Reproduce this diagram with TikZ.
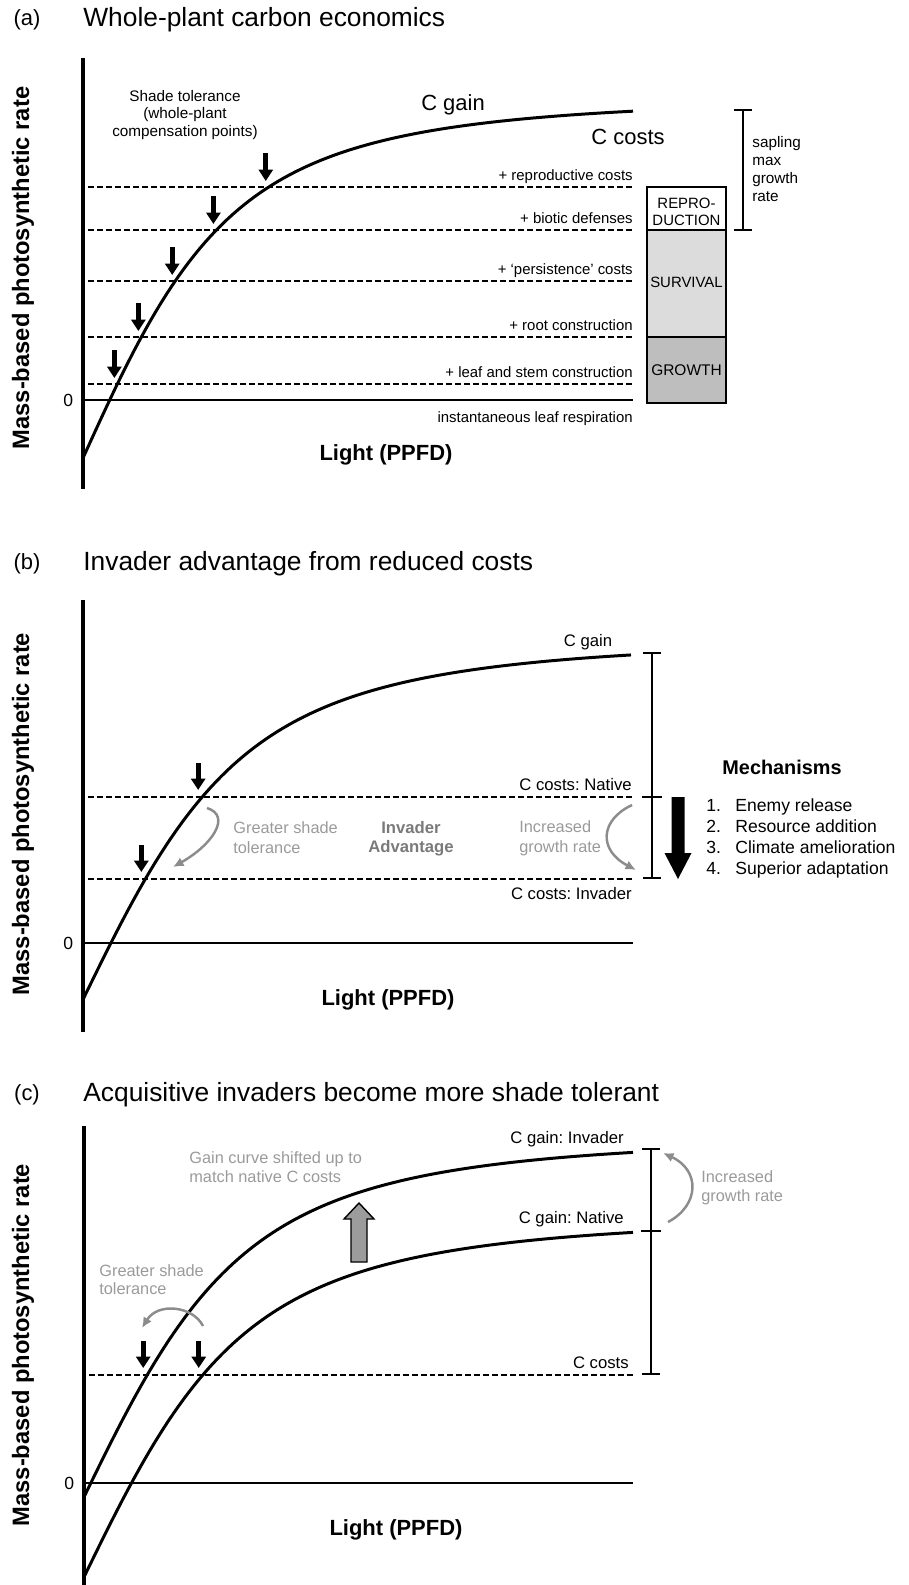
\documentclass[tikz,border=0pt]{standalone}
\usepackage{fontspec}
\setmainfont{Liberation Sans}
\usepackage{tikz}
\usetikzlibrary{positioning}
\usetikzlibrary{arrows.meta}

\definecolor{annogray}{HTML}{8C8C8C}
\definecolor{notegray}{HTML}{9A9A9A}
\definecolor{advgray}{HTML}{7A7A7A}
\definecolor{survgray}{HTML}{DCDCDC}
\definecolor{growgray}{HTML}{BEBEBE}
\definecolor{liftgray}{HTML}{9C9C9C}

\tikzset{
    axisline/.style={line width=2.3pt},
    zeroline/.style={line width=1.1pt},
    costline/.style={line width=1.1pt, dash pattern=on 3.4pt off 1.7pt},
    gaincurve/.style={line width=1.7pt},
    comparrow/.style={line width=2.7pt, -{Triangle[width=8pt,length=6.5pt]}},
    shiftarrow/.style={annogray, line width=1.4pt, -{Latex[width=5.5pt,length=6pt]}},
    rangebar/.style={line width=1.1pt},
    boxline/.style={line width=1.4pt},
    paneltitle/.style={font=\fontsize{15}{18}\selectfont, anchor=west, inner sep=0pt},
    panelletter/.style={font=\fontsize{12.5}{15}\selectfont, inner sep=0pt},
    ylab/.style={font=\fontsize{13.5}{16}\selectfont\bfseries, rotate=90, inner sep=0pt},
    xlab/.style={font=\fontsize{12.5}{15}\selectfont\bfseries, inner sep=0pt},
    zerolab/.style={font=\fontsize{10}{12}\selectfont, inner sep=0pt},
    costlab/.style={font=\fontsize{8.5}{10}\selectfont, anchor=base east, inner sep=0pt},
    smalllab/.style={font=\fontsize{8.7}{10.2}\selectfont, inner sep=0pt},
    curvelab/.style={font=\fontsize{9.5}{11}\selectfont, anchor=base east, inner sep=0pt},
    notelab/.style={font=\fontsize{9.3}{11.2}\selectfont, text=notegray, align=left,
        anchor=west, inner sep=0pt}
}

\begin{document}
\frenchspacing
\begin{tikzpicture}[x=0.02cm, y=-0.02cm,
    declare function={gain(\xx,\ss)=\ss*\xx/sqrt(1+(\ss*\xx/362)^2);
                      lux(\dd,\ss)=\dd/(\ss*sqrt(1-(\dd/362)^2));}]
        \useasboundingbox (0,0) rectangle (909,1585);

        % (a) whole-plant carbon economics
        \node[panelletter] (la) at (27,20) {(a)};
        \node[paneltitle] (ta) at (83,20) {Whole-plant carbon economics};

        \draw[axisline] (83,58) -- (83,489);
        \coordinate (za) at (83,400);
        \draw[zeroline] (za) -- (633,400);
        \node[zerolab, left=5.4pt of za] (z0a) {0};

        \foreach \yc/\costtext in {187/+ reproductive costs, 230/+ biotic defenses,
            281/+ ‘persistence’ costs, 337/+ root construction,
            384/+ leaf and stem construction}
        {
            \draw[costline] (88,\yc) -- (633,\yc);
            \node[costlab] (cost\yc) at (633,\yc-7) {\costtext};
        }

        \draw[gaincurve] plot[domain=0:550, samples=100]
        ({83+\x},{458-gain(\x,2.2)});

        \foreach \dd in {74, 121, 177, 228, 271}
        {
            \pgfmathsetmacro{\cx}{83+lux(\dd,2.2)-3}
            \coordinate (ca\dd) at (\cx,458-\dd-6);
            \draw[comparrow] (ca\dd) ++(0,-28) -- (ca\dd);
        }

        \node[font=\fontsize{12.5}{15}\selectfont] (cga) at (453,105) {C gain};
        \node[font=\fontsize{12.5}{15}\selectfont] (cca) at (628,137) {C costs};
        \node[smalllab, align=center] (shade) at (185,115)
        {Shade tolerance\\(whole-plant\\compensation points)};
        \node[costlab] (resp) at (633,422) {instantaneous leaf respiration};
        \node[xlab] (xa) at (386,455) {Light (PPFD)};
        \node[ylab] (ya) at (23,268) {Mass-based photosynthetic rate};

        \draw[boxline] (647,187) rectangle (726,230);
        \draw[boxline, fill=survgray] (647,230) rectangle (726,337);
        \draw[boxline, fill=growgray] (647,337) rectangle (726,403);
        \node[costlab, anchor=center, align=center,
        font=\fontsize{8.5}{9.7}\selectfont] (repro) at (686.5,212) {REPRO-\\DUCTION};
        \node[costlab, anchor=center] (surv) at (686.5,282) {SURVIVAL};
        \node[costlab, anchor=center, font=\fontsize{8.8}{10}\selectfont]
        (grow) at (686.5,370) {GROWTH};

        \draw[rangebar, {Bar[width=10pt]}-{Bar[width=10pt]}] (743,109) -- (743,231);
        \node[smalllab, align=left, anchor=north west] (sap) at (752,136)
        {sapling\\max\\growth\\rate};

        % (b) reduced costs
        \node[panelletter] (lb) at (27,564) {(b)};
        \node[paneltitle] (tb) at (83,564) {Invader advantage from reduced costs};

        \draw[axisline] (83,600) -- (83,1032);
        \coordinate (zb) at (83,943);
        \draw[zeroline] (zb) -- (633,943);
        \node[zerolab, left=5.4pt of zb] (z0b) {0};

        \draw[costline] (88,797) -- (633,797);
        \draw[costline] (88,879) -- (633,879);

        \draw[gaincurve] plot[domain=0:548, samples=100]
        ({83+\x},{999.5-gain(\x,2.05)});

        \foreach \yb in {797, 879}
        {
            \pgfmathsetmacro{\cx}{83+lux(999.5-\yb,2.05)-4}
            \coordinate (cb\yb) at (\cx,\yb-7);
            \draw[comparrow] (cb\yb) ++(0,-27) -- (cb\yb);
        }

        \node[curvelab, anchor=center] (cgb) at (588,642) {C gain};
        \node[curvelab] (ccn) at (632,790) {C costs: Native};
        \node[curvelab] (cci) at (632,899) {C costs: Invader};

        \draw[rangebar, {Bar[width=10.5pt]}-{Bar[width=10.5pt]}] (652,652) -- (652,879);
        \draw[rangebar] (642,797) -- (662,797);

        \fill (671.5,797) -- (684.5,797) -- (684.5,853) -- (691.5,853)
        -- (678,879) -- (664.5,853) -- (671.5,853) -- cycle;

        \node[font=\fontsize{11.3}{13}\selectfont\bfseries] (mech) at (782,767)
        {Mechanisms};
        \foreach \k/\mechtext in {1/Enemy release, 2/Resource addition,
            3/Climate amelioration, 4/Superior adaptation}
        {
            \node[font=\fontsize{10}{12}\selectfont, anchor=base west, inner sep=0pt]
            (num\k) at (706,{811+21*(\k-1)}) {\k.};
            \node[font=\fontsize{10}{12}\selectfont, anchor=base west, inner sep=0pt]
            (mech\k) at (735,{811+21*(\k-1)}) {\mechtext};
        }

        \draw[shiftarrow] (207,808) .. controls (232,816) and (212,845) .. (173,867);
        \draw[shiftarrow] (632,805) .. controls (600,820) and (598,850) .. (636,870);
        \node[notelab, font=\fontsize{9.3}{11.4}\selectfont] (gstb) at (233,838)
        {Greater shade\\tolerance};
        \node[notelab, text=advgray, align=center, anchor=center,
        font=\fontsize{9.5}{10.8}\selectfont\bfseries] (adv) at (411,839)
        {Invader\\Advantage};
        \node[notelab, font=\fontsize{9.3}{11.4}\selectfont] (igrb) at (519,838)
        {Increased\\growth rate};

        \node[xlab] (xb) at (388,1000) {Light (PPFD)};
        \node[ylab] (yb) at (23,814) {Mass-based photosynthetic rate};

        % (c) shifted gain curve
        \node[panelletter] (lc) at (27,1095) {(c)};
        \node[paneltitle] (tc) at (83,1095) {Acquisitive invaders become more shade tolerant};

        \draw[axisline] (84,1126) -- (84,1590);
        \coordinate (zc) at (84,1483);
        \draw[zeroline] (zc) -- (633,1483);
        \node[zerolab, left=5.4pt of zc] (z0c) {0};

        \draw[costline] (89,1375) -- (633,1375);

        \draw[gaincurve] plot[domain=0:549, samples=100]
        ({84+\x},{1497-gain(\x,2.05)});
        \draw[gaincurve] plot[domain=0:549, samples=100]
        ({84+\x},{1577-gain(\x,2.05)});

        \foreach \ys in {1497, 1577}
        {
            \pgfmathsetmacro{\cx}{84+lux(\ys-1375,2.05)-4}
            \coordinate (cc\ys) at (\cx,1368);
            \draw[comparrow] (cc\ys) ++(0,-27) -- (cc\ys);
        }

        \node[curvelab] (cgi) at (624,1143) {C gain: Invader};
        \node[curvelab] (cgn) at (624,1223) {C gain: Native};
        \node[curvelab] (ccc) at (629,1368) {C costs};

        \draw[rangebar, {Bar[width=10.5pt]}-{Bar[width=10.5pt]}] (651,1148) -- (651,1375);
        \draw[rangebar] (641,1231) -- (661,1231);

        \draw[line width=0.8pt, fill=liftgray] (351,1262) -- (367,1262) -- (367,1219)
        -- (374,1219) -- (359,1203) -- (344,1219) -- (351,1219) -- cycle;

        \draw[shiftarrow] (668,1222) .. controls (700,1205) and (700,1170) .. (663,1153);
        \draw[shiftarrow] (203,1326) .. controls (193,1306) and (158,1302) .. (142,1328);

        \node[notelab, font=\fontsize{9.3}{10.8}\selectfont] (shift) at (189,1167.5)
        {Gain curve shifted up to\\match native C costs};
        \node[notelab, font=\fontsize{9.3}{10.2}\selectfont] (gstc) at (99,1280)
        {Greater shade\\tolerance};
        \node[notelab, font=\fontsize{9.3}{10.8}\selectfont] (igrc) at (701,1187.5)
        {Increased\\growth rate};

        \node[xlab] (xc) at (396,1530) {Light (PPFD)};
        \node[ylab] (yc) at (23,1345) {Mass-based photosynthetic rate};
    \end{tikzpicture}
\end{document}
